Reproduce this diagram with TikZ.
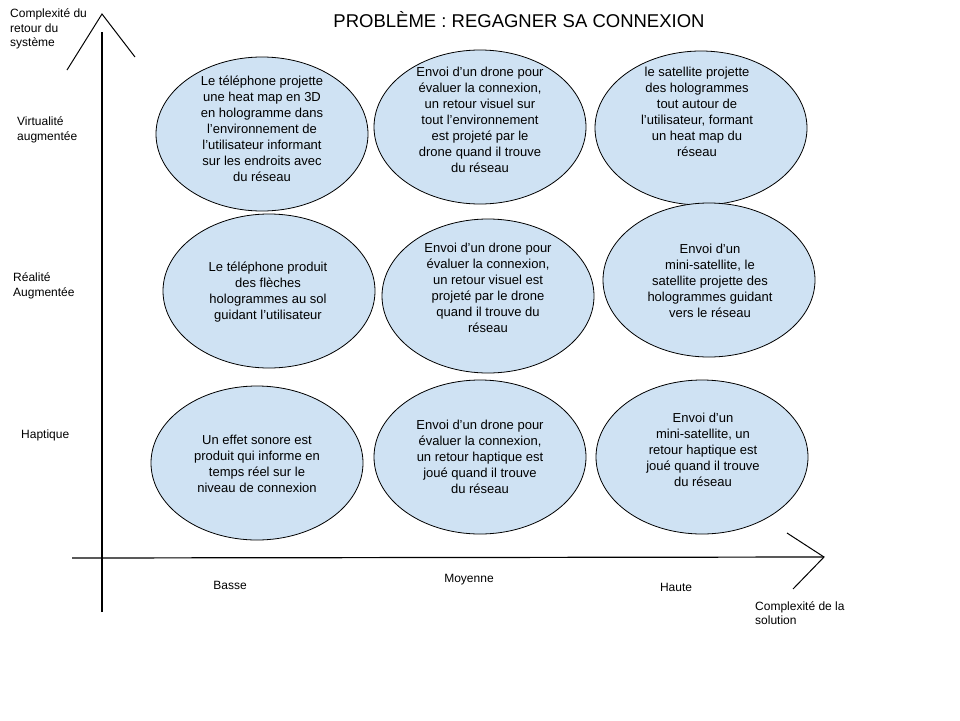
\documentclass[tikz,border=0pt]{standalone}
\usepackage{fontspec}
\setmainfont{Liberation Sans}
\usetikzlibrary{shapes.geometric}
\definecolor{bleuclair}{HTML}{CFE2F3}

\begin{document}
\begin{tikzpicture}[x=1pt,y=-1pt,
  bulle/.style={ellipse,draw=black,line width=0.8pt,fill=bleuclair,minimum width=212pt,minimum height=154pt,inner sep=0pt},
  texte/.style={align=center,inner sep=0pt,font=\fontsize{13}{16}\selectfont},
  axe/.style={align=left,inner sep=0pt,anchor=west,font=\fontsize{12}{14.5}\selectfont},
  niveau/.style={inner sep=0pt,font=\fontsize{12}{14.5}\selectfont}]
\useasboundingbox (0,0) rectangle (960,720);

\node[inner sep=0pt,font=\fontsize{18.5}{22}\selectfont] (titre) at (519,20) {PROBLÈME : REGAGNER SA CONNEXION};

% axes
\coordinate (ybas) at (102,612);
\coordinate (yhaut) at (102,32);
\coordinate (ypointe) at (102,14);
\coordinate (xdebut) at (72,558);
\coordinate (xfin) at (824,557);
\draw[line width=1.2pt] (ybas) -- (yhaut);
\draw[line width=1pt] (67,70) -- (ypointe) -- (135,57);
\draw[line width=1.2pt] (xdebut) -- (xfin);
\draw[line width=1pt] (787,533) -- (xfin) -- (793,589);

\node[axe] (axey) at (10,29) {Complexité du\\retour du\\système};
\node[axe] (virt) at (17,130) {Virtualité\\augmentée};
\node[axe] (real) at (13,286) {Réalité\\Augmentée};
\node[axe] (hapt) at (21,435) {Haptique};
\node[axe] (axex) at (755,613) {Complexité de la\\solution};
\node[niveau] (basse) at (230,585) {Basse};
\node[niveau] (moyenne) at (469,580) {Moyenne};
\node[niveau] (haute) at (676,587) {Haute};

% virtualite augmentee
\node[bulle] (vb) at (262,134) {};
\node[texte] (tvb) at (262,129) {Le téléphone projette\\une heat map en 3D\\en hologramme dans\\l’environnement de\\l’utilisateur informant\\sur les endroits avec\\du réseau};
\node[bulle] (vm) at (480,127) {};
\node[texte] (tvm) at (480,120) {Envoi d’un drone pour\\évaluer la connexion,\\un retour visuel sur\\tout l’environnement\\est projeté par le\\drone quand il trouve\\du réseau};
\node[bulle] (vh) at (701,128) {};
\node[texte] (tvh) at (697,112) {le satellite projette\\des hologrammes\\tout autour de\\l’utilisateur, formant\\un heat map du\\réseau};

% realite augmentee
\node[bulle] (rb) at (269,291) {};
\node[texte] (trb) at (268,292) {Le téléphone produit\\des flèches\\hologrammes au sol\\guidant l’utilisateur};
\node[bulle] (rm) at (488,296) {};
\node[texte] (trm) at (488,288) {Envoi d’un drone pour\\évaluer la connexion,\\un retour visuel est\\projeté par le drone\\quand il trouve du\\réseau};
\node[bulle] (rh) at (709,280) {};
\node[texte] (trh) at (710,281) {Envoi d’un\\mini-satellite, le\\satellite projette des\\hologrammes guidant\\vers le réseau};

% haptique
\node[bulle] (hb) at (257,463) {};
\node[texte] (thb) at (257,464) {Un effet sonore est\\produit qui informe en\\temps réel sur le\\niveau de connexion};
\node[bulle] (hm) at (480,457) {};
\node[texte] (thm) at (480,457) {Envoi d’un drone pour\\évaluer la connexion,\\un retour haptique est\\joué quand il trouve\\du réseau};
\node[bulle] (hh) at (702,457) {};
\node[texte] (thh) at (703,450) {Envoi d’un\\mini-satellite, un\\retour haptique est\\joué quand il trouve\\du réseau};

\end{tikzpicture}
\end{document}
